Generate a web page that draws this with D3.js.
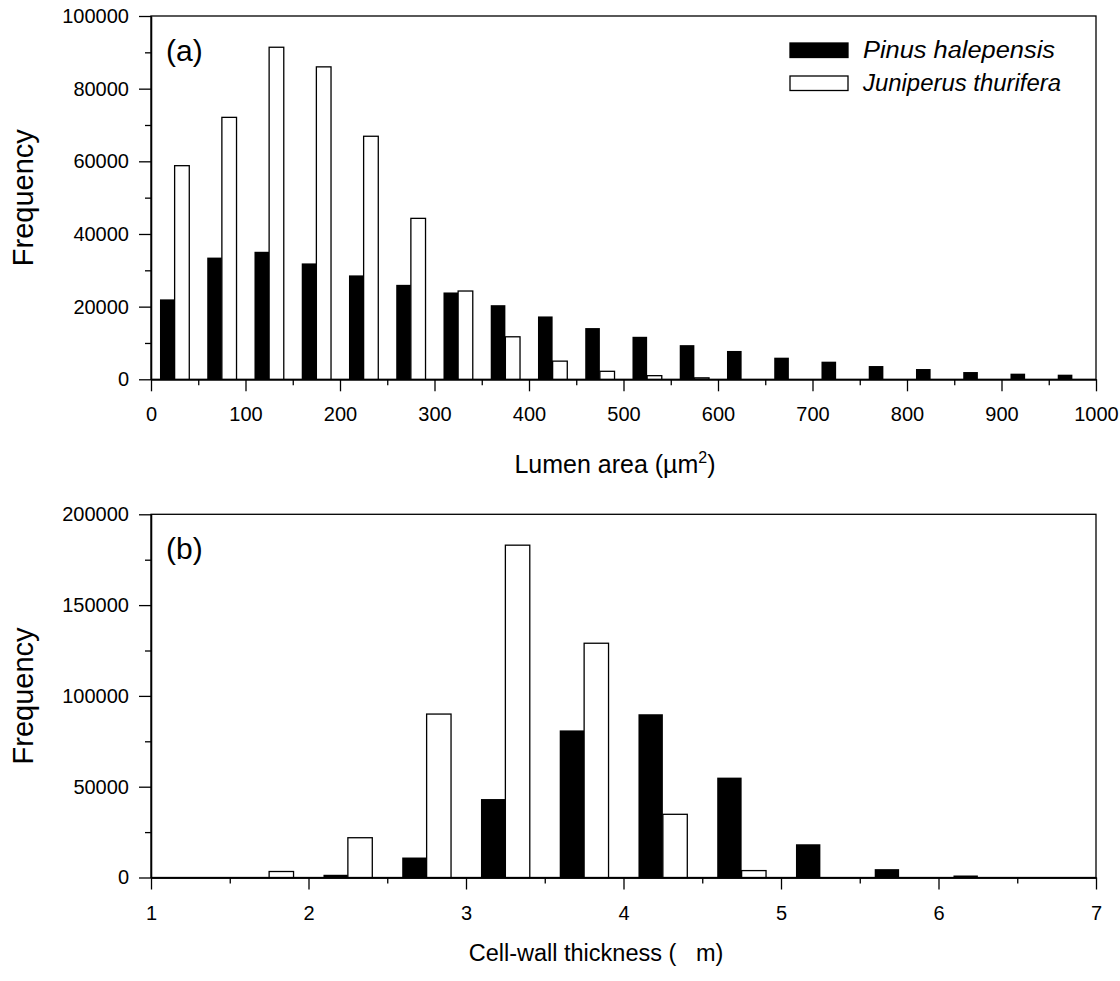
<!DOCTYPE html>
<html>
<head>
<meta charset="utf-8">
<script src="https://cdn.jsdelivr.net/npm/d3@7"></script>
<style>
  body { margin: 0; background: #fff; }
  svg { display: block; font-family: "Liberation Sans", Arial, sans-serif; }
  .axis path, .axis line { stroke: #000; stroke-width: 1.3; }
  .axis text { font-size: 20px; fill: #000; font-family: "Liberation Sans", Arial, sans-serif; }
</style>
</head>
<body>
<svg id="chart" width="1120" height="981"></svg>
<script>
// panel (a): lumen area, bins of 50 µm²
var lumenBins = [0, 50, 100, 150, 200, 250, 300, 350, 400, 450, 500, 550, 600, 650, 700, 750, 800, 850, 900, 950]
var lumenPinus = [22000, 33500, 35100, 31900, 28600, 26000, 23900, 20400, 17300, 14100, 11700, 9400, 7800, 5950, 4850, 3650, 2830, 2000, 1550, 1270]
var lumenJuniperus = [58800, 72100, 91400, 86000, 66900, 44300, 24300, 11700, 5000, 2200, 1000, 400, 0, 0, 0, 0, 0, 0, 0, 0]
var lumenTicks = [0, 100, 200, 300, 400, 500, 600, 700, 800, 900, 1000]
var lumenYTicks = [0, 20000, 40000, 60000, 80000, 100000]

// panel (b): cell-wall thickness, bins of 0.5 µm
var wallBins = [1, 1.5, 2, 2.5, 3, 3.5, 4, 4.5, 5, 5.5, 6, 6.5]
var wallPinus = [0, 0, 1500, 11000, 43200, 81000, 89900, 55000, 18300, 4600, 1100, 0]
var wallJuniperus = [0, 3300, 21900, 90000, 183000, 129000, 34800, 3800, 0, 0, 0, 0]
var wallTicks = [1, 2, 3, 4, 5, 6, 7]
var wallYTicks = [0, 50000, 100000, 150000, 200000]

var species = ["Pinus halepensis", "Juniperus thurifera"]

var svg = d3.select("#chart")

function panel(o) {
  var x = d3.scaleLinear().domain(o.xDomain).range([151, 1096])
  var y = d3.scaleLinear().domain(o.yDomain).range([o.bottom, o.top])
  var g = svg.append("g")
  var bw = o.binWidth

  // frame
  g.append("rect")
    .attr("x", x(o.xDomain[0])).attr("y", y(o.yDomain[1]))
    .attr("width", x(o.xDomain[1]) - x(o.xDomain[0]))
    .attr("height", y(o.yDomain[0]) - y(o.yDomain[1]))
    .attr("fill", "none").attr("stroke", "#000").attr("stroke-width", 1.3)

  // bars
  o.bins.forEach(function(b, i) {
    if (o.black[i] > 0)
      g.append("rect")
        .attr("x", x(b + 0.19 * bw)).attr("width", x(b + 0.5 * bw) - x(b + 0.19 * bw))
        .attr("y", y(o.black[i])).attr("height", y(0) - y(o.black[i]))
        .attr("fill", "#000")
    if (o.white[i] > 0)
      g.append("rect")
        .attr("x", x(b + 0.5 * bw)).attr("width", x(b + 0.81 * bw) - x(b + 0.5 * bw))
        .attr("y", y(o.white[i])).attr("height", y(0) - y(o.white[i]))
        .attr("fill", "#fff").attr("stroke", "#000").attr("stroke-width", 1.3)
  })

  // minor ticks
  g.append("g").attr("class", "axis")
    .attr("transform", "translate(0," + y(0) + ")")
    .call(d3.axisBottom(x).tickValues(o.xMinor).tickSize(6).tickSizeOuter(0).tickFormat(""))
  g.append("g").attr("class", "axis")
    .attr("transform", "translate(" + x(o.xDomain[0]) + ",0)")
    .call(d3.axisLeft(y).tickValues(o.yMinor).tickSize(6).tickSizeOuter(0).tickFormat(""))

  // major axes
  g.append("g").attr("class", "axis")
    .attr("transform", "translate(0," + y(0) + ")")
    .call(d3.axisBottom(x).tickValues(o.xTicks).tickSize(12).tickSizeOuter(0).tickPadding(16).tickFormat(d3.format("d")))
  g.append("g").attr("class", "axis")
    .attr("transform", "translate(" + x(o.xDomain[0]) + ",0)")
    .call(d3.axisLeft(y).tickValues(o.yTicks).tickSize(12).tickSizeOuter(0).tickPadding(10).tickFormat(d3.format("d")))

  // y title
  g.append("text")
    .attr("transform", "translate(33," + ((o.top + o.bottom) / 2) + ") rotate(-90)")
    .attr("text-anchor", "middle")
    .style("font-size", "29px")
    .text("Frequency")

  // panel letter
  g.append("text")
    .attr("x", 166).attr("y", o.top + 45)
    .style("font-size", "30px")
    .text(o.letter)

  return { x: x, y: y, g: g }
}

var a = panel({
  bins: lumenBins, black: lumenPinus, white: lumenJuniperus, binWidth: 50,
  xDomain: [0, 1000], yDomain: [0, 100000], top: 16, bottom: 379.3,
  xTicks: lumenTicks, xMinor: d3.range(50, 1000, 100),
  yTicks: lumenYTicks, yMinor: d3.range(10000, 100000, 20000),
  letter: "(a)"
})

var b = panel({
  bins: wallBins, black: wallPinus, white: wallJuniperus, binWidth: 0.5,
  xDomain: [1, 7], yDomain: [0, 200000], top: 514.3, bottom: 877.5,
  xTicks: wallTicks, xMinor: d3.range(1.5, 7, 1),
  yTicks: wallYTicks, yMinor: d3.range(25000, 200000, 50000),
  letter: "(b)"
})

// x titles
var t1 = svg.append("text").attr("x", 615).attr("y", 473)
  .attr("text-anchor", "middle").style("font-size", "25px")
t1.append("tspan").text("Lumen area (\u00b5m")
t1.append("tspan").attr("dy", -10).style("font-size", "16px").text("2")
t1.append("tspan").attr("dy", 10).text(")")

svg.append("text").attr("x", 596).attr("y", 961)
  .attr("text-anchor", "middle").style("font-size", "23.5px")
  .text("Cell-wall thickness (\u00a0\u00a0\u00a0m)")

// legend
var legend = a.g.append("g")
species.forEach(function(s, i) {
  var yy = 43 + i * 33
  legend.append("rect")
    .attr("x", 790).attr("y", yy).attr("width", 58).attr("height", 14.5)
    .attr("fill", i == 0 ? "#000" : "#fff").attr("stroke", "#000").attr("stroke-width", 1.3)
  legend.append("text")
    .attr("x", 863).attr("y", yy + 15)
    .style("font-size", "23px").style("font-style", "italic")
    .attr("textLength", i == 0 ? 192 : 198).attr("lengthAdjust", "spacingAndGlyphs")
    .text(s)
})
</script>
</body>
</html>
